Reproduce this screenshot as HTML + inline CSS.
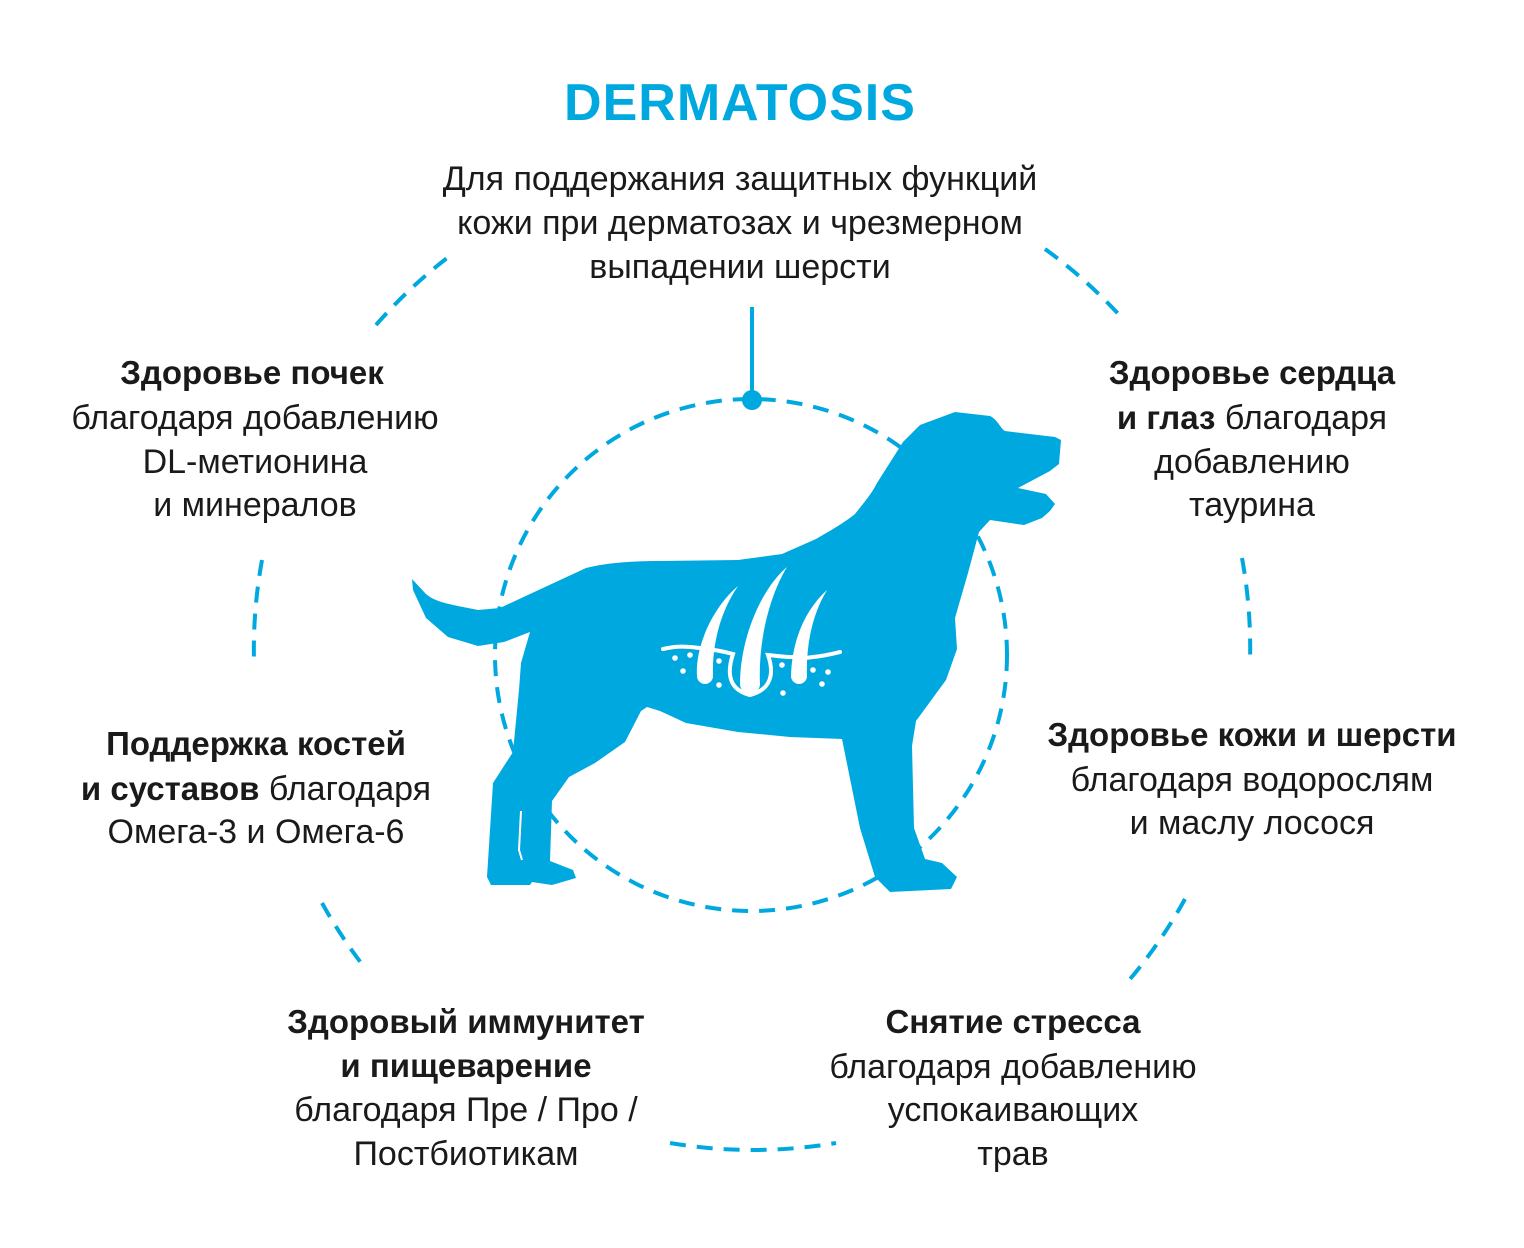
<!DOCTYPE html>
<html><head><meta charset="utf-8"><style>
html,body{margin:0;padding:0;background:#fff;}
svg{display:block;}
text{font-family:"Liberation Sans",sans-serif;font-size:34px;fill:#1a1a1a;}
.b{font-weight:bold;font-size:33px;}
tspan.b{font-size:33px;}
</style></head><body>
<svg width="1524" height="1248" viewBox="0 0 1524 1248" xmlns="http://www.w3.org/2000/svg">
<g fill="none" stroke="#00a8e0" stroke-width="4" stroke-dasharray="16 11">
<path d="M376,325 A498,498 0 0 1 455,252"/>
<path d="M1045,249 A498,498 0 0 1 1122,318"/>
<path d="M262,560 A498,498 0 0 0 254,662"/>
<path d="M1242,558 A498,498 0 0 1 1250,662"/>
<path d="M322,903 A498,498 0 0 0 365,968"/>
<path d="M1185,899 A498,498 0 0 1 1125,985"/>
<path d="M670,1143 A498,498 0 0 0 836,1143"/>
<circle cx="751" cy="655" r="256"/>
</g>
<line x1="752" y1="307" x2="752" y2="400" stroke="#00a8e0" stroke-width="4"/>
<circle cx="752" cy="400" r="10" fill="#00a8e0"/>
<path fill="#00a8e0" d="M412,579 L426,594 C435,602 448,604 478,610 L500,608 L530,594 L586,568 C610,562 640,561 660,561 L738,560 L782,554 L816,539 C835,528 845,522 855,514 C866,500 872,493 877,483 L903,442 L920,425 L955,412 L990,416 C998,420 1000,428 1005,431 L1055,437 L1061,440 L1059,464 L1050,471 L1018,488 L1046,494 L1055,504 L1050,511 L1042,518 L1024,525 L990,520 L979,532 L968,573 L955,618 L957,649 L946,680 L916,721 L912,746 L914,828 L925,859 L942,863 L957,877 L951,889 L890,892 L875,877 L860,828 L842,739 L790,737 L738,732 L686,723 L660,711 L647,707 L641,711 L625,742 L595,763 L569,777 L552,801 L550,861 L573,870 L576,878 L552,885 L532,882 L530,885 L491,885 L487,877 L493,783 L513,752 L519,690 L521,663 L530,632 L504,642 L478,646 L448,637 L426,618 L413,590 Z"/>
<path d="M521,811 L519,850 L522,860" fill="none" stroke="#fff" stroke-width="2"/>
<g fill="#fff">
<path d="M697,676 C695,650 710,610 738,586 C718,615 712,650 713,676 A8,8 0 0 1 697,676 Z"/>
<path d="M740,684 C740,640 760,590 787,567 C770,595 758,640 760,684 A10,10 0 0 1 740,684 Z"/>
<path d="M791,676 C792,640 805,610 827,590 C812,615 806,645 807,676 A8,8 0 0 1 791,676 Z"/>
<circle cx="675" cy="658" r="2.8"/><circle cx="690" cy="655" r="2.8"/><circle cx="719" cy="661" r="2.8"/>
<circle cx="683" cy="671" r="2.8"/><circle cx="719" cy="685" r="2.8"/><circle cx="782" cy="665" r="2.8"/>
<circle cx="783" cy="693" r="2.8"/><circle cx="813" cy="670" r="2.8"/><circle cx="828" cy="672" r="2.8"/>
<circle cx="822" cy="684" r="2.8"/>
</g>
<path d="M663,649 C680,645 690,647 700,648 C715,650 722,651 733,654 C726,675 730,690 750,695 C770,690 775,675 768,655 C778,656 785,657 792,657 C800,658 808,658 813,657 C825,656 832,654 840,652" fill="none" stroke="#fff" stroke-width="4" stroke-linecap="round"/>
<text x="740" y="120" text-anchor="middle" style="font-size:52px;font-weight:bold;fill:#00a8e0;letter-spacing:1px">DERMATOSIS</text>
<g text-anchor="middle">
<text x="740" y="190">Для поддержания защитных функций</text>
<text x="740" y="234">кожи при дерматозах и чрезмерном</text>
<text x="740" y="278">выпадении шерсти</text>

<text x="252" y="384" class="b">Здоровье почек</text>
<text x="255" y="429">благодаря добавлению</text>
<text x="255" y="473">DL-метионина</text>
<text x="255" y="516">и минералов</text>

<text x="1252" y="384" class="b">Здоровье сердца</text>
<text x="1252" y="429"><tspan class="b">и глаз</tspan> благодаря</text>
<text x="1252" y="473">добавлению</text>
<text x="1252" y="516">таурина</text>

<text x="256" y="755" class="b">Поддержка костей</text>
<text x="256" y="800"><tspan class="b">и суставов</tspan> благодаря</text>
<text x="256" y="843">Омега-3 и Омега-6</text>

<text x="1252" y="746" class="b">Здоровье кожи и шерсти</text>
<text x="1252" y="791">благодаря водорослям</text>
<text x="1252" y="834">и маслу лосося</text>

<text x="466" y="1033" class="b">Здоровый иммунитет</text>
<text x="466" y="1077" class="b">и пищеварение</text>
<text x="466" y="1121">благодаря Пре / Про /</text>
<text x="466" y="1165">Постбиотикам</text>

<text x="1013" y="1033" class="b">Снятие стресса</text>
<text x="1013" y="1078">благодаря добавлению</text>
<text x="1013" y="1121">успокаивающих</text>
<text x="1013" y="1165">трав</text>
</g>
</svg>
</body></html>
